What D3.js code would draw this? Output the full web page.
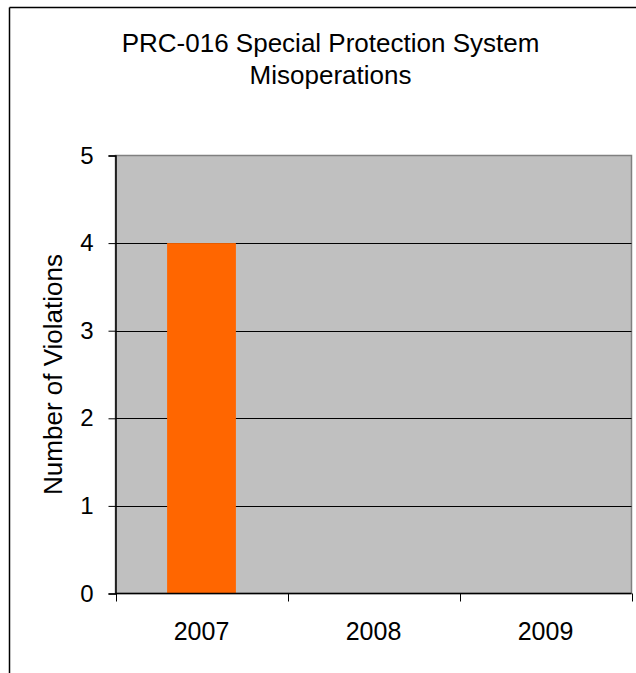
<!DOCTYPE html>
<html><head><meta charset="utf-8">
<script src="https://cdn.jsdelivr.net/npm/d3@7"></script>
<style>body{margin:0;background:#fff}svg{display:block}text{font-family:"Liberation Sans",Arial,sans-serif;fill:#000}</style>
</head><body>
<svg id="c" width="636" height="673"></svg>
<script>
const categories = ["2007", "2008", "2009"];
const violations = [4, 0, 0];
const yTicks = [0, 1, 2, 3, 4, 5];
const titleLines = ["PRC-016 Special Protection System", "Misoperations"];
const yTitle = "Number of Violations";

const svg = d3.select("#c");
const m = {left: 115.5, right: 631.5, top: 155.5, bottom: 593.5};

// outer frame (top and left only visible)
svg.append("line").attr("x1", 9.5).attr("x2", 636).attr("y1", 7.5).attr("y2", 7.5).attr("stroke", "#000").attr("stroke-width", 1.5);
svg.append("line").attr("x1", 9.5).attr("x2", 9.5).attr("y1", 7.5).attr("y2", 673).attr("stroke", "#000").attr("stroke-width", 1.5);

const x = d3.scaleBand().domain(categories).range([m.left, m.right]);
const y = d3.scaleLinear().domain([0, 5]).range([m.bottom, m.top]);

// plot area
svg.append("rect").attr("x", m.left).attr("y", m.top).attr("width", m.right - m.left).attr("height", m.bottom - m.top)
  .attr("fill", "#c0c0c0").attr("stroke", "#808080").attr("stroke-width", 1.5);

// gridlines
svg.append("g").selectAll("line").data(yTicks.filter(d => d > 0 && d < 5)).join("line")
  .attr("x1", m.left).attr("x2", m.right).attr("y1", d => Math.round(y(d)) + 0.5).attr("y2", d => Math.round(y(d)) + 0.5)
  .attr("stroke", "#000").attr("stroke-width", 1);

// bars
const bw = x.bandwidth() * 0.4;
svg.append("g").selectAll("rect").data(violations).join("rect")
  .attr("x", (d, i) => x(categories[i]) + (x.bandwidth() - bw) / 2)
  .attr("width", bw)
  .attr("y", d => y(d)).attr("height", d => y(0) - y(d))
  .attr("fill", "#ff6600");

// y axis
const yAxis = d3.axisLeft(y).tickValues(yTicks).tickSize(7).tickPadding(15).tickFormat(d3.format("d"));
const gy = svg.append("g").attr("transform", `translate(${m.left},0)`).call(yAxis);
gy.select(".domain").attr("stroke", "#000").attr("stroke-width", 1.5);
gy.selectAll(".tick line").attr("stroke", "#000");
gy.selectAll(".tick text").attr("font-size", 24).attr("font-family", "Liberation Sans, Arial, sans-serif").attr("fill", "#000");

// x axis
const xb = d3.scaleLinear().domain([0, categories.length]).range([m.left, m.right]);
const gx = svg.append("g").attr("transform", `translate(0,${m.bottom})`);
gx.append("line").attr("x1", m.left).attr("x2", m.right).attr("y1", 0).attr("y2", 0).attr("stroke", "#000").attr("stroke-width", 1.5);
gx.selectAll("line.tk").data(d3.range(categories.length + 1)).join("line").attr("class", "tk")
  .attr("x1", d => Math.round(xb(d)) + 0.5).attr("x2", d => Math.round(xb(d)) + 0.5).attr("y1", 0).attr("y2", 8).attr("stroke", "#000");
gx.selectAll("text").data(categories).join("text")
  .attr("x", d => x(d) + x.bandwidth() / 2).attr("y", 46).attr("text-anchor", "middle").attr("font-size", 25).text(d => d);

// title
svg.append("g").selectAll("text").data(titleLines).join("text")
  .attr("x", 330.5).attr("y", (d, i) => 52 + i * 32).attr("text-anchor", "middle").attr("font-size", 26).text(d => d);

// y title
svg.append("text").attr("transform", `translate(62,${(m.top + m.bottom) / 2}) rotate(-90)`)
  .attr("text-anchor", "middle").attr("font-size", 26).text(yTitle);
</script>
</body></html>
